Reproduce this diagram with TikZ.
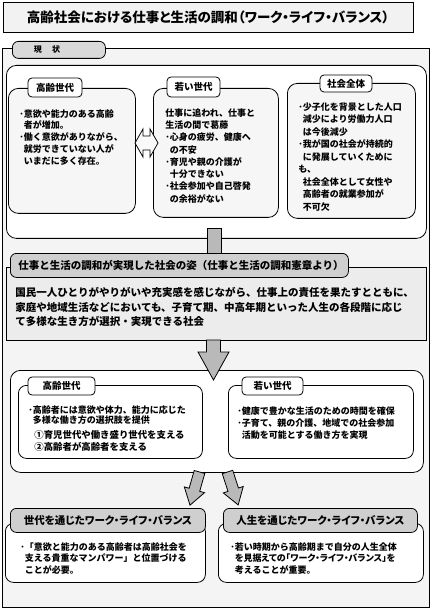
\documentclass[tikz,border=0pt]{standalone}
\usepackage{fontspec}
\setmainfont{Noto Sans CJK JP}
\newfontfamily\jpp{Noto Sans CJK JP}[RawFeature=+palt]
\newcommand\blockarr[7]{\draw[barrow,#1,shift={(#2)},rotate=#3] (0,-#5) -- (#4-#7,-#5) -- (#4-#7,-#6) -- (#4,0) -- (#4-#7,#6) -- (#4-#7,#5) -- (0,#5) -- cycle;}
\begin{document}
\begin{tikzpicture}[x=1pt,y=-1pt,line width=0.8pt,
  box/.style={draw,anchor=north west,inner sep=0pt},
  framebox/.style={box,fill=gray!9},
  whitebox/.style={box,fill=white,rounded corners=10pt},
  subbox/.style={box,fill=gray!7,rounded corners=10pt},
  wtab/.style={draw,fill=white,rounded corners=4pt,inner sep=0pt,font=\fontsize{9.5}{11}\selectfont\bfseries},
  gtab/.style={box,fill=gray!38,rounded corners=6pt},
  txt/.style={anchor=north west,inner sep=0pt,align=left,font=\fontsize{9}{11.8}\selectfont\bfseries},
  barrow/.style={draw,fill=gray!55,line join=miter}]
\useasboundingbox (0,0) rectangle (431,609);
% title
\node[draw,fill=gray!10,minimum width=410pt,minimum height=30pt,inner sep=0pt,
  font=\jpp\fontsize{13.5}{15}\selectfont\bfseries] (title) at (208,17)
  {高齢社会における仕事と生活の調和（ワーク・ライフ・バランス）};
% outer frame
\node[framebox,minimum width=427pt,minimum height=559pt] (frame) at (2,48) {};
\node[gtab,fill=gray!30,minimum width=93pt,minimum height=17pt] (gstab) at (12,41) {};
\node[inner sep=0pt,font=\fontsize{8}{9}\selectfont\bfseries] (gstext) at (47,49.5) {現\hspace{1.3em}状};
% top section
\node[whitebox,minimum width=420pt,minimum height=173pt] (topbox) at (6,65) {};
\node[subbox,minimum width=127pt,minimum height=125pt] (sa) at (8,88) {};
\node[subbox,minimum width=125pt,minimum height=129pt] (sb) at (153,88) {};
\node[subbox,minimum width=128pt,minimum height=135pt] (sc) at (287,83) {};
\node[wtab,minimum width=54pt,minimum height=19pt] (tabA) at (55,87.5) {高齢世代};
\node[wtab,minimum width=53pt,minimum height=20pt] (tabB) at (193.5,87) {若い世代};
\node[wtab,minimum width=52pt,minimum height=17pt] (tabC) at (346,83.5) {社会全体};
\node[txt] (ta) at (19,109) {･意欲や能力のある高齢\\\hspace*{.5em}者が増加。\\･働く意欲がありながら、\\\hspace*{.5em}就労できていない人が\\\hspace*{.5em}いまだに多く存在。};
\node[txt,font=\fontsize{9}{12.3}\selectfont\bfseries] (tb) at (165,108) {仕事に追われ、仕事と\\生活の間で葛藤\\･心身の疲労、健康へ\\\hspace*{.5em}の不安\\･育児や親の介護が\\\hspace*{.5em}十分できない\\･社会参加や自己啓発\\\hspace*{.5em}の余裕がない};
\node[txt,font=\fontsize{9}{12.5}\selectfont\bfseries] (tc) at (298,102) {･少子化を背景とした人口\\\hspace*{.5em}減少により労働力人口\\\hspace*{.5em}は今後減少\\･我が国の社会が持続的\\\hspace*{.5em}に発展していくために\\も、\\\hspace*{.5em}社会全体として女性や\\\hspace*{.5em}高齢者の就業参加が\\\hspace*{.5em}不可欠};
\draw[barrow,fill=gray!5] (135,143) -- (143,129) -- (143,136) -- (150,136) -- (150,129) -- (158,143) -- (150,157) -- (150,150) -- (143,150) -- (143,157) -- cycle;
\draw[barrow] (207,228) rectangle (221,258);
% middle section
\node[box,fill=gray!15,minimum width=420pt,minimum height=73pt] (midbox) at (6,267) {};
\node[gtab,minimum width=338pt,minimum height=24pt] (midtab) at (10,253) {};
\node[anchor=west,inner sep=0pt,font=\fontsize{10.5}{12}\selectfont\bfseries] (midtabtext) at (18,265) {仕事と生活の調和が実現した社会の姿（仕事と生活の調和憲章より）};
\node[txt,font=\fontsize{10.5}{14.5}\selectfont\bfseries] (midtext) at (15,287) {国民一人ひとりがやりがいや充実感を感じながら、仕事上の責任を果たすとともに、\\家庭や地域生活などにおいても、子育て期、中高年期といった人生の各段階に応じ\\て多様な生き方が選択・実現できる社会};
% lower section
\node[whitebox,minimum width=413pt,minimum height=102pt] (lowbox) at (10,370) {};
\blockarr{}{213.5,340}{-90}{40}{7}{15.5}{28}
\node[whitebox,rounded corners=8pt,minimum width=184pt,minimum height=73pt] (la) at (18,385) {};
\node[whitebox,rounded corners=8pt,minimum width=185pt,minimum height=73pt] (lb) at (228,385) {};
\node[wtab,minimum width=67pt,minimum height=18pt] (tabLA) at (61.5,386) {高齢世代};
\node[wtab,minimum width=61pt,minimum height=18pt] (tabLB) at (272.5,386) {若い世代};
\node[txt,font=\fontsize{9}{10.8}\selectfont\bfseries] (la1) at (28,405) {･高齢者には意欲や体力、能力に応じた\\\hspace*{.5em}多様な働き方の選択肢を提供};
\node[txt,font=\fontsize{9.4}{12}\selectfont\bfseries] (la2) at (34,430) {①育児世代や働き盛り世代を支える\\②高齢者が高齢者を支える};
\node[txt,font=\fontsize{9}{12}\selectfont\bfseries] (lbt) at (237,406) {･健康で豊かな生活のための時間を確保\\･子育て、親の介護、地域での社会参加\\\hspace*{.5em}活動を可能とする働き方を実現};
\blockarr{}{199.5,472}{-106}{34.5}{5.5}{10.5}{16}
\blockarr{}{227.5,472}{-72}{34.6}{5.5}{10.5}{16}
% bottom section
\node[whitebox,rounded corners=8pt,minimum width=200pt,minimum height=59pt] (ba) at (5,523) {};
\node[whitebox,rounded corners=8pt,minimum width=205pt,minimum height=59pt] (bb) at (218,523) {};
\node[gtab,minimum width=195pt,minimum height=24pt,font=\jpp\fontsize{10.5}{12}\selectfont\bfseries] (tabBA) at (10,508) {世代を通じたワーク・ライフ・バランス};
\node[gtab,minimum width=194pt,minimum height=24pt,font=\jpp\fontsize{10.5}{12}\selectfont\bfseries] (tabBB) at (223,508) {人生を通じたワーク・ライフ・バランス};
\node[txt,font=\fontsize{9}{11.5}\selectfont\bfseries] (bat) at (20,542) {･「意欲と能力のある高齢者は高齢社会を\\\hspace*{.5em}支える貴重なマンパワー」と位置づける\\\hspace*{.5em}ことが必要。};
\node[txt,font=\fontsize{9}{11.5}\selectfont\bfseries] (bbt) at (230,542) {･若い時期から高齢期まで自分の人生全体\\\hspace*{.5em}{\jpp を見据えての「ワーク・ライフ・バランス」を}\\\hspace*{.5em}考えることが重要。};
\end{tikzpicture}
\end{document}
